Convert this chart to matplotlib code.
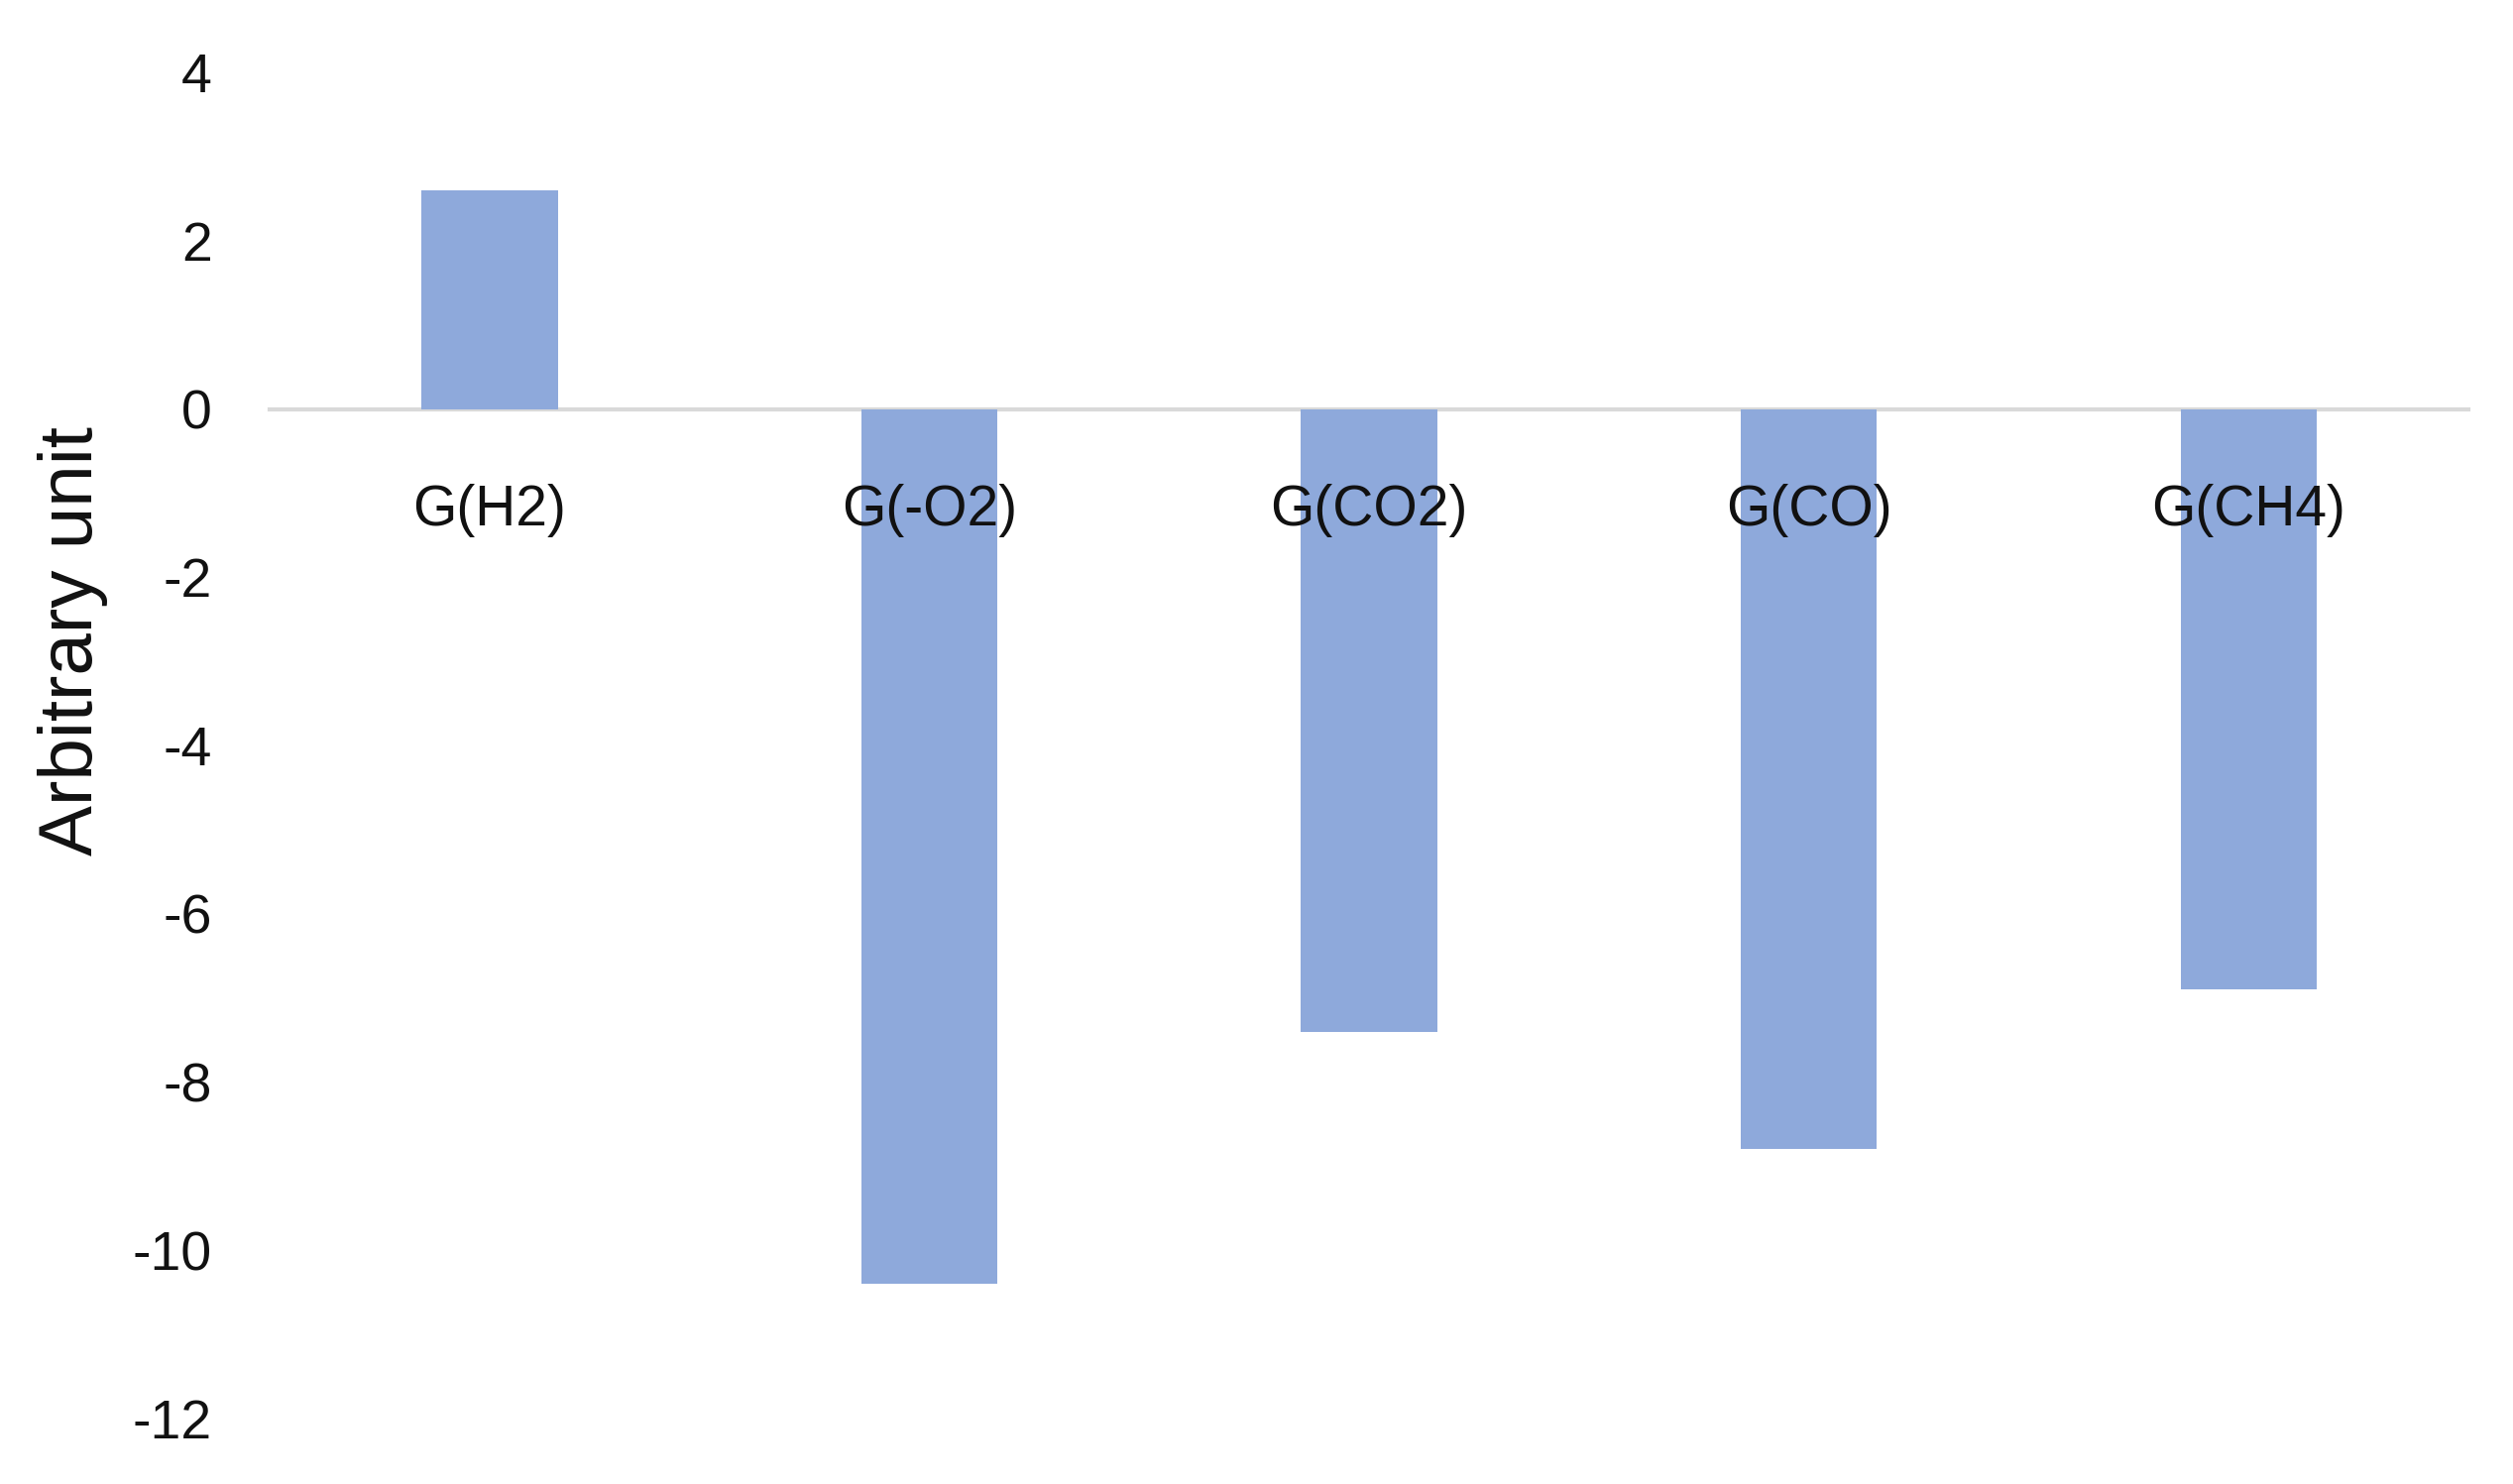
import matplotlib
matplotlib.use("Agg")
import matplotlib.pyplot as plt
from matplotlib import font_manager

categories = ["G(H2)", "G(-O2)", "G(CO2)", "G(CO)", "G(CH4)"]
values = [2.6, -10.4, -7.4, -8.8, -6.9]
yticks = [4, 2, 0, -2, -4, -6, -8, -10, -12]
ylabel = "Arbitrary unit"

names = {f.name for f in font_manager.fontManager.ttflist}
narrow = "Liberation Sans Narrow" if "Liberation Sans Narrow" in names else "Liberation Sans"

fig = plt.figure(figsize=(25.35, 14.97), dpi=100)
ax = fig.add_axes([0.1073, 0.0441, 0.8750, 0.9071])

ax.bar(range(len(categories)), values, width=0.31, color="#8EA9DB", zorder=1)

for s in ["top", "right", "left"]:
    ax.spines[s].set_visible(False)
ax.spines["bottom"].set_position(("data", 0))
ax.spines["bottom"].set_color("#d9d9d9")
ax.spines["bottom"].set_linewidth(3)
ax.spines["bottom"].set_zorder(0.5)

ax.set_xlim(-0.5, len(categories) - 0.5)
ax.set_ylim(-12, 4)
ax.set_yticks(yticks)
ax.set_yticklabels([str(t) for t in yticks], fontsize=40, family=narrow, color="#111111")
ax.tick_params(axis="y", length=0, pad=42)

ax.set_xticks(range(len(categories)))
ax.set_xticklabels(categories, fontsize=41, family=narrow, color="#111111")
ax.tick_params(axis="x", length=0, pad=54)

fig.text(0.0288, 0.568, ylabel, rotation=90, fontsize=55, family=narrow,
         ha="center", va="center", color="#111111")

fig.savefig("out.png", dpi=100, facecolor="white")
